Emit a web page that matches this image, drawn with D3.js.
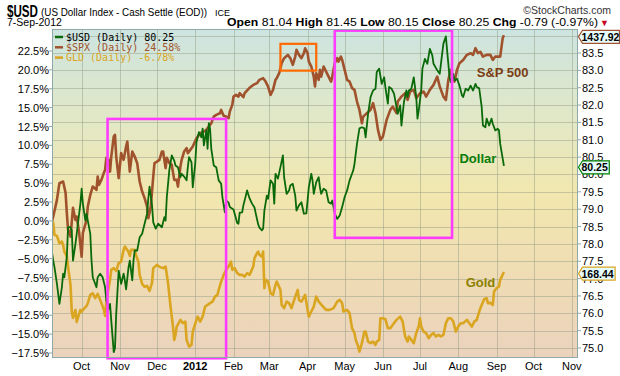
<!DOCTYPE html>
<meta charset="utf-8">
<style>
  body { margin: 0; background: #fff; }
  text { font-family: Arial, "Liberation Sans", sans-serif; }
</style>
<body>
<script src="https://cdnjs.cloudflare.com/ajax/libs/d3/7.8.5/d3.min.js"></script>
<script>
// US dollar index, daily close (right axis)
var usd = [
  ["2011-09-07",77.75],["2011-09-08",77.52],["2011-09-09",77.33],["2011-09-11",76.85],["2011-09-13",76.27],
  ["2011-09-15",76.75],["2011-09-16",77.14],["2011-09-17",77.04],["2011-09-19",77.62],["2011-09-20",78.48],
  ["2011-09-22",78.48],["2011-09-23",78.39],["2011-09-24",77.52],["2011-09-26",78.00],["2011-09-28",78.58],
  ["2011-09-30",79.16],["2011-10-01",79.59],["2011-10-02",79.16],["2011-10-04",78.67],["2011-10-05",78.87],
  ["2011-10-06",78.67],["2011-10-08",78.29],["2011-10-09",77.52],["2011-10-10",77.04],["2011-10-13",76.75],
  ["2011-10-14",77.04],["2011-10-16",77.14],["2011-10-18",77.04],["2011-10-20",76.75],["2011-10-21",76.37],
  ["2011-10-23",76.13],["2011-10-24",76.27],["2011-10-25",75.79],["2011-10-27",74.88],["2011-10-28",74.99],
  ["2011-10-29",75.99],["2011-10-31",77.23],["2011-11-01",77.04],["2011-11-02",76.85],["2011-11-04",77.14],
  ["2011-11-05",76.95],["2011-11-06",76.69],["2011-11-08",77.33],["2011-11-09",77.52],["2011-11-11",76.95],
  ["2011-11-12",77.52],["2011-11-13",77.81],["2011-11-15",77.81],["2011-11-16",78.00],["2011-11-17",78.19],
  ["2011-11-19",78.29],["2011-11-21",78.58],["2011-11-23",78.87],["2011-11-24",79.31],["2011-11-25",79.65],
  ["2011-11-27",79.11],["2011-11-28",78.62],["2011-11-30",78.44],["2011-12-02",78.58],["2011-12-05",78.48],
  ["2011-12-07",78.77],["2011-12-08",78.67],["2011-12-09",79.35],["2011-12-11",80.12],["2011-12-13",80.55],
  ["2011-12-15",80.40],["2011-12-16",80.26],["2011-12-18",80.21],["2011-12-20",79.92],["2011-12-21",80.02],
  ["2011-12-23",79.94],["2011-12-25",79.83],["2011-12-26",80.21],["2011-12-27",80.50],["2011-12-29",80.35],
  ["2011-12-30",79.63],["2012-01-01",80.31],["2012-01-02",80.93],["2012-01-04",81.22],["2012-01-06",81.07],
  ["2012-01-07",81.32],["2012-01-08",80.84],["2012-01-10",81.27],["2012-01-11",80.74],["2012-01-12",81.48],
  ["2012-01-13",81.32],["2012-01-14",80.74],["2012-01-16",80.26],["2012-01-18",80.21],["2012-01-20",79.83],
  ["2012-01-22",79.73],["2012-01-23",79.35],["2012-01-25",78.91],["2012-01-26",79.25],["2012-01-28",79.19],
  ["2012-01-29",79.06],["2012-02-01",78.99],["2012-02-04",78.60],["2012-02-05",78.58],["2012-02-06",78.90],
  ["2012-02-08",78.91],["2012-02-09",79.11],["2012-02-11",79.39],["2012-02-12",79.54],["2012-02-14",79.31],
  ["2012-02-16",79.16],["2012-02-18",79.05],["2012-02-19",78.88],["2012-02-21",78.56],["2012-02-22",78.47],
  ["2012-02-24",78.39],["2012-02-25",78.44],["2012-02-26",78.96],["2012-02-28",79.39],["2012-02-29",79.30],
  ["2012-03-02",79.83],["2012-03-04",79.73],["2012-03-05",79.16],["2012-03-06",80.02],["2012-03-08",79.88],
  ["2012-03-10",80.21],["2012-03-12",80.55],["2012-03-13",79.92],["2012-03-15",79.44],["2012-03-17",79.54],
  ["2012-03-18",79.68],["2012-03-20",79.73],["2012-03-22",79.39],["2012-03-23",78.96],["2012-03-25",79.11],
  ["2012-03-27",79.20],["2012-03-29",78.87],["2012-03-31",78.88],["2012-04-02",79.63],["2012-04-04",80.02],
  ["2012-04-05",79.83],["2012-04-06",79.44],["2012-04-08",79.78],["2012-04-10",79.92],["2012-04-11",79.63],
  ["2012-04-12",79.44],["2012-04-14",79.59],["2012-04-16",79.54],["2012-04-18",79.20],["2012-04-20",79.16],
  ["2012-04-21",79.25],["2012-04-23",78.87],["2012-04-25",78.72],["2012-04-27",78.82],["2012-04-29",79.06],
  ["2012-05-01",79.35],["2012-05-03",79.54],["2012-05-05",79.83],["2012-05-08",80.12],["2012-05-09",80.31],
  ["2012-05-11",80.88],["2012-05-13",81.33],["2012-05-15",81.36],["2012-05-17",81.33],["2012-05-18",81.07],
  ["2012-05-20",81.75],["2012-05-22",82.23],["2012-05-24",82.42],["2012-05-26",82.47],["2012-05-27",82.95],
  ["2012-05-29",83.05],["2012-05-31",82.61],["2012-06-02",82.80],["2012-06-03",82.52],["2012-06-05",82.04],
  ["2012-06-06",82.52],["2012-06-08",82.47],["2012-06-10",82.33],["2012-06-12",81.94],["2012-06-13",81.75],
  ["2012-06-15",81.99],["2012-06-16",81.41],["2012-06-18",82.08],["2012-06-20",82.42],["2012-06-21",82.23],
  ["2012-06-22",82.42],["2012-06-24",82.47],["2012-06-26",82.80],["2012-06-28",82.23],["2012-06-29",81.61],
  ["2012-06-30",81.84],["2012-07-02",82.42],["2012-07-03",83.05],["2012-07-05",83.33],["2012-07-07",83.19],
  ["2012-07-09",83.62],["2012-07-11",83.43],["2012-07-12",83.19],["2012-07-15",83.00],["2012-07-17",82.90],
  ["2012-07-19",83.48],["2012-07-20",83.77],["2012-07-22",83.98],["2012-07-23",83.57],["2012-07-25",82.80],
  ["2012-07-26",82.66],["2012-07-28",82.90],["2012-07-29",82.71],["2012-07-31",82.76],["2012-08-02",82.56],
  ["2012-08-04",82.28],["2012-08-05",82.23],["2012-08-07",82.47],["2012-08-09",82.42],["2012-08-11",82.56],
  ["2012-08-13",82.42],["2012-08-15",82.61],["2012-08-16",82.52],["2012-08-18",82.48],["2012-08-20",81.94],
  ["2012-08-21",81.41],["2012-08-23",81.36],["2012-08-24",81.61],["2012-08-26",81.41],["2012-08-28",81.61],
  ["2012-08-29",81.46],["2012-08-31",81.27],["2012-09-02",81.32],["2012-09-03",81.27],["2012-09-04",80.88],
  ["2012-09-07",80.25]
];

// S&P 500, % change since start (left axis)
var spx = [
  ["2011-09-07",0],["2011-09-08",0.57],["2011-09-11",2.78],["2011-09-13",4.99],["2011-09-16",5.21],
  ["2011-09-18",3.71],["2011-09-19",1.06],["2011-09-20",-1.19],["2011-09-22",-2.08],["2011-09-24",1.72],
  ["2011-09-26",0.13],["2011-09-27",0.57],["2011-09-29",-1.59],["2011-10-01",-4.73],["2011-10-02",-1.59],
  ["2011-10-05",0.13],["2011-10-06",1.89],["2011-10-08",3.44],["2011-10-10",4.54],["2011-10-13",4.11],
  ["2011-10-14",5.87],["2011-10-15",4.77],["2011-10-17",5.43],["2011-10-19",6.36],["2011-10-20",6.75],
  ["2011-10-21",8.34],["2011-10-23",8.08],["2011-10-24",6.53],["2011-10-25",8.52],["2011-10-27",11.17],
  ["2011-10-28",11.39],["2011-10-29",8.52],["2011-10-31",5.66],["2011-11-02",8.97],["2011-11-04",8.08],
  ["2011-11-06",9.84],["2011-11-07",10.50],["2011-11-09",6.53],["2011-11-11",9.18],["2011-11-13",8.52],
  ["2011-11-15",7.64],["2011-11-17",5.21],["2011-11-19",3.88],["2011-11-21",3.01],["2011-11-23",1.89],
  ["2011-11-24",0.36],["2011-11-26",1.89],["2011-11-28",5.87],["2011-11-29",7.64],["2011-12-01",7.85],
  ["2011-12-03",8.08],["2011-12-05",9.18],["2011-12-06",9.18],["2011-12-08",6.98],["2011-12-09",8.34],
  ["2011-12-11",7.68],["2011-12-13",7.42],["2011-12-15",5.43],["2011-12-17",5.43],["2011-12-18",4.54],
  ["2011-12-20",7.19],["2011-12-21",8.08],["2011-12-23",9.18],["2011-12-25",9.63],["2011-12-26",8.97],
  ["2011-12-28",9.40],["2011-12-30",9.84],["2012-01-02",10.95],["2012-01-04",11.39],["2012-01-05",11.62],
  ["2012-01-08",11.83],["2012-01-10",12.05],["2012-01-12",12.49],["2012-01-14",12.94],["2012-01-16",13.81],
  ["2012-01-18",14.04],["2012-01-21",14.26],["2012-01-22",14.70],["2012-01-24",13.91],["2012-01-26",13.81],
  ["2012-01-28",13.60],["2012-01-29",14.48],["2012-01-31",15.36],["2012-02-01",16.46],["2012-02-03",16.69],
  ["2012-02-05",16.46],["2012-02-06",16.91],["2012-02-09",16.38],["2012-02-10",16.91],["2012-02-14",17.62],
  ["2012-02-17",18.01],["2012-02-20",18.24],["2012-02-22",18.68],["2012-02-25",18.90],["2012-02-27",18.45],
  ["2012-02-29",17.79],["2012-03-02",16.69],["2012-03-04",17.35],["2012-03-06",18.68],["2012-03-07",18.90],
  ["2012-03-09",19.56],["2012-03-11",20.89],["2012-03-13",21.55],["2012-03-16",21.99],["2012-03-18",21.55],
  ["2012-03-20",20.66],["2012-03-22",21.76],["2012-03-23",22.65],["2012-03-25",21.99],["2012-03-27",21.55],
  ["2012-03-29",22.21],["2012-03-30",22.87],["2012-04-01",22.21],["2012-04-02",21.10],["2012-04-04",20.44],
  ["2012-04-06",19.11],["2012-04-07",17.79],["2012-04-08",19.56],["2012-04-10",18.68],["2012-04-11",20.00],
  ["2012-04-12",19.11],["2012-04-14",20.44],["2012-04-16",19.77],["2012-04-18",19.11],["2012-04-20",18.45],
  ["2012-04-21",19.11],["2012-04-23",20.89],["2012-04-25",21.55],["2012-04-26",21.10],["2012-04-28",21.76],
  ["2012-04-29",21.32],["2012-05-01",20.00],["2012-05-03",18.68],["2012-05-05",18.45],["2012-05-07",17.58],
  ["2012-05-09",17.35],["2012-05-11",15.80],["2012-05-13",14.70],["2012-05-15",12.94],["2012-05-16",13.81],
  ["2012-05-19",14.26],["2012-05-22",14.70],["2012-05-24",15.59],["2012-05-26",14.26],["2012-05-28",12.05],
  ["2012-05-30",10.73],["2012-06-01",11.17],["2012-06-04",13.38],["2012-06-07",14.70],["2012-06-09",15.14],
  ["2012-06-12",14.26],["2012-06-13",15.80],["2012-06-16",16.46],["2012-06-19",16.91],["2012-06-21",16.03],
  ["2012-06-23",17.13],["2012-06-26",17.35],["2012-06-28",16.25],["2012-07-01",16.91],["2012-07-04",17.13],
  ["2012-07-06",16.46],["2012-07-09",17.35],["2012-07-12",18.01],["2012-07-15",19.11],["2012-07-17",17.79],
  ["2012-07-20",16.46],["2012-07-22",16.03],["2012-07-24",18.68],["2012-07-26",20.00],["2012-07-28",18.90],
  ["2012-07-29",18.45],["2012-07-31",20.00],["2012-08-02",20.89],["2012-08-05",21.32],["2012-08-08",21.99],
  ["2012-08-11",22.21],["2012-08-13",21.99],["2012-08-15",22.87],["2012-08-17",22.21],["2012-08-19",22.38],
  ["2012-08-21",21.76],["2012-08-24",21.99],["2012-08-27",21.99],["2012-08-29",21.32],["2012-08-31",21.76],
  ["2012-09-04",21.76],["2012-09-06",24.20],["2012-09-07",24.58]
];

// SPDR Gold, % change since start (left axis)
var gld = [
  ["2011-09-07",0],["2011-09-08",-0.30],["2011-09-09",-1.85],["2011-09-11",-1.99],["2011-09-13",-2.95],
  ["2011-09-15",-2.74],["2011-09-16",-3.18],["2011-09-17",-4.07],["2011-09-19",-4.73],["2011-09-20",-6.05],
  ["2011-09-22",-8.48],["2011-09-23",-12.01],["2011-09-24",-12.85],["2011-09-26",-11.79],["2011-09-27",-13.38],
  ["2011-09-28",-12.85],["2011-09-30",-11.79],["2011-10-01",-12.05],["2011-10-02",-11.79],["2011-10-05",-11.26],
  ["2011-10-06",-10.90],["2011-10-08",-9.80],["2011-10-10",-9.58],["2011-10-12",-10.24],["2011-10-14",-9.67],
  ["2011-10-15",-10.07],["2011-10-17",-10.86],["2011-10-19",-11.79],["2011-10-20",-12.58],["2011-10-21",-10.73],
  ["2011-10-23",-8.70],["2011-10-24",-7.81],["2011-10-25",-6.49],["2011-10-27",-6.26],["2011-10-29",-6.62],
  ["2011-10-31",-5.60],["2011-11-02",-5.39],["2011-11-04",-3.84],["2011-11-05",-3.40],["2011-11-08",-4.11],
  ["2011-11-09",-4.64],["2011-11-10",-3.84],["2011-11-13",-3.84],["2011-11-14",-4.50],["2011-11-16",-5.43],
  ["2011-11-17",-7.15],["2011-11-19",-8.34],["2011-11-21",-8.74],["2011-11-23",-8.61],["2011-11-25",-9.27],
  ["2011-11-27",-8.21],["2011-11-28",-6.26],["2011-12-01",-5.83],["2011-12-03",-6.09],["2011-12-06",-6.26],
  ["2011-12-08",-6.05],["2011-12-10",-8.25],["2011-12-12",-11.35],["2011-12-14",-14.00],["2011-12-15",-15.76],
  ["2011-12-16",-15.10],["2011-12-17",-14.00],["2011-12-20",-13.11],["2011-12-22",-13.55],["2011-12-24",-13.34],
  ["2011-12-25",-15.76],["2011-12-27",-16.65],["2011-12-29",-16.42],["2011-12-30",-14.66],["2012-01-02",-13.11],
  ["2012-01-03",-12.68],["2012-01-05",-13.34],["2012-01-07",-12.68],["2012-01-09",-11.35],["2012-01-11",-11.13],
  ["2012-01-13",-10.90],["2012-01-15",-10.69],["2012-01-17",-10.03],["2012-01-19",-9.80],["2012-01-20",-9.14],
  ["2012-01-22",-8.04],["2012-01-24",-7.15],["2012-01-26",-6.49],["2012-01-28",-6.05],["2012-01-30",-5.39],
  ["2012-01-31",-6.49],["2012-02-02",-6.26],["2012-02-04",-6.93],["2012-02-06",-7.15],["2012-02-08",-7.15],
  ["2012-02-10",-7.38],["2012-02-12",-6.93],["2012-02-14",-7.15],["2012-02-17",-6.05],["2012-02-18",-4.94],
  ["2012-02-20",-4.28],["2012-02-21",-4.07],["2012-02-22",-4.50],["2012-02-24",-4.73],["2012-02-25",-4.07],
  ["2012-02-26",-8.91],["2012-02-27",-7.81],["2012-02-29",-8.04],["2012-03-02",-9.58],["2012-03-04",-9.80],
  ["2012-03-06",-8.48],["2012-03-07",-8.04],["2012-03-10",-9.14],["2012-03-11",-11.13],["2012-03-13",-11.56],
  ["2012-03-15",-10.69],["2012-03-17",-10.90],["2012-03-19",-11.56],["2012-03-22",-10.03],["2012-03-24",-9.14],
  ["2012-03-25",-10.46],["2012-03-27",-10.69],["2012-03-30",-9.80],["2012-04-01",-11.79],["2012-04-02",-12.68],
  ["2012-04-04",-12.01],["2012-04-06",-11.35],["2012-04-08",-10.03],["2012-04-10",-10.69],["2012-04-13",-11.26],
  ["2012-04-16",-11.79],["2012-04-19",-11.79],["2012-04-22",-11.56],["2012-04-25",-10.69],["2012-04-27",-10.46],
  ["2012-04-29",-10.90],["2012-04-30",-12.01],["2012-05-03",-11.79],["2012-05-05",-12.23],["2012-05-07",-14.21],
  ["2012-05-09",-14.87],["2012-05-10",-15.76],["2012-05-12",-16.65],["2012-05-13",-17.31],["2012-05-15",-16.20],
  ["2012-05-17",-14.66],["2012-05-18",-14.66],["2012-05-20",-15.99],["2012-05-22",-16.20],["2012-05-24",-15.99],
  ["2012-05-26",-16.42],["2012-05-27",-15.99],["2012-05-29",-15.76],["2012-05-30",-12.89],["2012-06-01",-12.89],
  ["2012-06-03",-13.02],["2012-06-05",-14.21],["2012-06-07",-14.21],["2012-06-09",-13.77],["2012-06-12",-13.11],
  ["2012-06-15",-12.68],["2012-06-17",-13.34],["2012-06-19",-15.32],["2012-06-21",-15.99],["2012-06-22",-15.32],
  ["2012-06-24",-15.76],["2012-06-26",-16.20],["2012-06-28",-14.87],["2012-06-30",-14.00],["2012-07-01",-12.89],
  ["2012-07-02",-14.00],["2012-07-04",-14.66],["2012-07-06",-14.87],["2012-07-08",-15.54],["2012-07-10",-15.10],
  ["2012-07-12",-14.87],["2012-07-14",-15.32],["2012-07-16",-15.10],["2012-07-18",-15.32],["2012-07-20",-15.10],
  ["2012-07-22",-13.55],["2012-07-24",-12.89],["2012-07-26",-12.89],["2012-07-28",-13.34],["2012-07-30",-14.66],
  ["2012-08-01",-14.00],["2012-08-03",-13.55],["2012-08-05",-13.55],["2012-08-08",-13.11],["2012-08-10",-13.55],
  ["2012-08-12",-14.00],["2012-08-14",-13.34],["2012-08-16",-13.11],["2012-08-18",-12.01],["2012-08-20",-11.13],
  ["2012-08-22",-10.37],["2012-08-24",-10.24],["2012-08-25",-10.90],["2012-08-27",-10.86],["2012-08-29",-11.13],
  ["2012-08-30",-9.36],["2012-09-01",-8.91],["2012-09-03",-8.70],["2012-09-04",-7.81],["2012-09-07",-6.78]
];

var pctTicks = [-17.5, -15, -12.5, -10, -7.5, -5, -2.5, 0, 2.5, 5, 7.5, 10, 12.5, 15, 17.5, 20, 22.5];
var usdTicks = [75, 75.5, 76, 76.5, 77, 77.5, 78, 78.5, 79, 79.5, 80, 80.5, 81, 81.5, 82, 82.5, 83, 83.5, 84];
var monthLabels = ["Oct", "Nov", "Dec", "2012", "Feb", "Mar", "Apr", "May", "Jun", "Jul", "Aug", "Sep", "Oct", "Nov"];

// highlighted periods: [from, to, top %, bottom %]
var pinkBoxes = [["2011-10-22", "2012-01-26", 13.5, -18.2], ["2012-04-23", "2012-07-27", 25.2, -2.25]];
var orangeBoxes = [["2012-03-10", "2012-04-08", 23.45, 19.9]];

// last close of each series: [label on tag, value, axis]
var lastTags = [["1437.92", 24.58, "pct"], ["80.25", 80.25, "usd"], ["168.44", -6.78, "pct"]];

var parse = d3.timeParse("%Y-%m-%d");
var pL = 52, pR = 578, pT = 29, pB = 358;

var x = d3.scaleTime()
  .domain([new Date(2011, 8, 7), new Date(2012, 10, 6)])
  .range([pL, pR]);
var yPct = d3.scaleLinear().domain([-17.5, 22.5]).range([353, 51]);
var yUsd = d3.scaleLinear().domain([75, 83.5]).range([348, 53]);

var svg = d3.select("body").append("svg")
  .attr("width", 620)
  .attr("height", 376);

var defs = svg.append("defs");
var grad = defs.append("linearGradient")
  .attr("id", "bg")
  .attr("x1", 0).attr("y1", 0).attr("x2", 0).attr("y2", 1);
[["0%", "#cde4e0"], ["28%", "#e2e8c6"], ["50%", "#f2e7ae"], ["75%", "#efdcb4"], ["100%", "#ebd2bd"]]
  .forEach(function (s) {
    grad.append("stop").attr("offset", s[0]).attr("stop-color", s[1]);
  });
defs.append("clipPath").attr("id", "clip")
  .append("rect")
  .attr("x", pL).attr("y", pT)
  .attr("width", pR - pL).attr("height", pB - pT);

svg.append("rect")
  .attr("x", pL).attr("y", pT)
  .attr("width", pR - pL).attr("height", pB - pT)
  .attr("fill", "url(#bg)");

// grid
var months = d3.timeMonth.range(new Date(2011, 9, 1), new Date(2012, 11, 1));
var grid = svg.append("g").attr("clip-path", "url(#clip)")
  .attr("stroke", "#95a088").attr("stroke-opacity", 0.5);
grid.selectAll(".v").data(months).enter().append("line")
  .attr("x1", function (d) { return Math.round(x(d)) + 0.5; })
  .attr("x2", function (d) { return Math.round(x(d)) + 0.5; })
  .attr("y1", pT).attr("y2", pB);
grid.selectAll(".h").data(usdTicks).enter().append("line")
  .attr("x1", pL).attr("x2", pR)
  .attr("y1", function (d) { return Math.round(yUsd(d)) + 0.5; })
  .attr("y2", function (d) { return Math.round(yUsd(d)) + 0.5; });

// series
function lineFor(scale) {
  return d3.line()
    .x(function (d) { return x(parse(d[0])); })
    .y(function (d) { return scale(d[1]); });
}
var lines = svg.append("g").attr("clip-path", "url(#clip)").attr("fill", "none")
  .attr("stroke-linejoin", "round");
lines.append("path").datum(gld)
  .attr("d", lineFor(yPct))
  .attr("stroke", "#daa520").attr("stroke-width", 2.6);
lines.append("path").datum(spx)
  .attr("d", lineFor(yPct))
  .attr("stroke", "#a0522d").attr("stroke-width", 2.6);
lines.append("path").datum(usd)
  .attr("d", lineFor(yUsd))
  .attr("stroke", "#0a6a0a").attr("stroke-width", 1.8);

// annotation boxes
function box(sel, color, width) {
  sel.enter().append("rect")
    .attr("x", function (d) { return x(parse(d[0])); })
    .attr("y", function (d) { return yPct(d[2]); })
    .attr("width", function (d) { return x(parse(d[1])) - x(parse(d[0])); })
    .attr("height", function (d) { return yPct(d[3]) - yPct(d[2]); })
    .attr("fill", "none").attr("stroke", color).attr("stroke-width", width);
}
box(svg.append("g").selectAll("rect").data(pinkBoxes), "#ff3cff", 2.6);
box(svg.append("g").selectAll("rect").data(orangeBoxes), "#ff6a00", 2.2);

// frame
svg.append("rect")
  .attr("x", pL + 0.5).attr("y", pT + 0.5)
  .attr("width", pR - pL - 1).attr("height", pB - pT - 1)
  .attr("fill", "none").attr("stroke", "#8fa9a9");

// left axis
var yAxisL = svg.append("g").style("font-size", "11px");
yAxisL.selectAll("text").data(pctTicks).enter().append("text")
  .attr("x", 49).attr("y", function (d) { return yPct(d) + 4; })
  .attr("text-anchor", "end")
  .text(function (d) { return d3.format(".1f")(d) + "%"; });
yAxisL.selectAll("line").data(pctTicks).enter().append("line")
  .attr("x1", 49).attr("x2", pL)
  .attr("y1", function (d) { return yPct(d); })
  .attr("y2", function (d) { return yPct(d); })
  .attr("stroke", "#8fa9a9");

// right axis
var yAxisR = svg.append("g").style("font-size", "11px");
yAxisR.selectAll("text").data(usdTicks.filter(function (d) { return d < 84; })).enter().append("text")
  .attr("x", 582).attr("y", function (d) { return yUsd(d) + 4; })
  .text(function (d) { return d3.format(".1f")(d); });
yAxisR.selectAll("line").data(usdTicks).enter().append("line")
  .attr("x1", pR).attr("x2", pR + 3)
  .attr("y1", function (d) { return yUsd(d); })
  .attr("y2", function (d) { return yUsd(d); })
  .attr("stroke", "#8fa9a9");

// x axis
svg.append("g").selectAll("text").data(months).enter().append("text")
  .attr("x", function (d) { return x(d); })
  .attr("y", 370)
  .attr("text-anchor", "middle")
  .style("font-size", "11px")
  .style("font-weight", function (d, i) { return monthLabels[i] === "2012" ? "bold" : "normal"; })
  .text(function (d, i) { return monthLabels[i]; });

// price tags on the right edge
var tagColors = ["#a0522d", "#008000", "#daa520"];
var tagG = svg.append("g").selectAll("g").data(lastTags).enter().append("g")
  .attr("transform", function (d) {
    var yy = d[2] === "usd" ? yUsd(d[1]) : yPct(d[1]);
    return "translate(" + pR + "," + (yy + 1.5) + ")";
  });
tagG.append("path")
  .attr("fill", "#e6fbfb")
  .attr("stroke", function (d, i) { return tagColors[i]; })
  .attr("stroke-width", 1.2);
tagG.append("text")
  .attr("x", 3.5).attr("y", 4)
  .style("font-size", "10.5px").style("font-weight", "bold")
  .text(function (d) { return d[0]; })
  .each(function () {
    var w = Math.min(this.getComputedTextLength() + 5, 41.5);
    d3.select(this.parentNode).select("path")
      .attr("d", "M0.5,0L4.5,-6.5L" + w + ",-6.5L" + w + ",6.5L4.5,6.5Z");
  });

// legend
var legend = [
  ["$USD (Daily) 80.25", "#0a6a0a", "#000"],
  ["$SPX (Daily) 24.58%", "#a0522d", "#a0522d"],
  ["GLD (Daily) -6.78%", "#daa520", "#daa520"]
];
var lg = svg.append("g").selectAll("g").data(legend).enter().append("g")
  .attr("transform", function (d, i) { return "translate(55," + (37 + i * 10.3) + ")"; });
lg.append("line").attr("x1", 0).attr("x2", 8)
  .attr("stroke", function (d) { return d[1]; }).attr("stroke-width", 2.5);
lg.append("text").attr("x", 11).attr("y", 3.5)
  .style("font-family", "'DejaVu Sans Mono', monospace").style("font-size", "10px")
  .attr("fill", function (d) { return d[2]; })
  .text(function (d) { return d[0]; });

// series labels
var labels = [
  ["S&P 500", "2012-08-16", yPct(19.0), "#7b3d14"],
  ["Dollar", "2012-08-02", yUsd(80.32), "#0a7d0a"],
  ["Gold", "2012-08-07", yPct(-8.8), "#8c8000"]
];
svg.append("g").selectAll("text").data(labels).enter().append("text")
  .attr("x", function (d) { return x(parse(d[1])); })
  .attr("y", function (d) { return d[2]; })
  .attr("fill", function (d) { return d[3]; })
  .style("font-size", "13px").style("font-weight", "bold")
  .text(function (d) { return d[0]; });

// header
svg.append("text").attr("x", 7).attr("y", 17)
  .attr("textLength", 31).attr("lengthAdjust", "spacingAndGlyphs")
  .style("font-size", "16px").style("font-weight", "bold").text("$USD");
svg.append("text").attr("x", 41).attr("y", 16)
  .attr("textLength", 166).attr("lengthAdjust", "spacingAndGlyphs")
  .style("font-size", "11px").text("(US Dollar Index - Cash Settle (EOD))");
svg.append("text").attr("x", 215).attr("y", 16)
  .style("font-size", "9px").text("ICE");
svg.append("text").attr("x", 611).attr("y", 14).attr("text-anchor", "end")
  .attr("fill", "#333").style("font-size", "10.5px").text("\u00a9StockCharts.com");
svg.append("text").attr("x", 7).attr("y", 26)
  .style("font-size", "10.5px").text("7-Sep-2012");

var quote = [["Open", " 81.04 "], ["High", " 81.45 "], ["Low", " 80.15 "], ["Close", " 80.25 "], ["Chg", " -0.79 (-0.97%)"]];
var qt = svg.append("text").attr("x", 598).attr("y", 26).attr("text-anchor", "end")
  .attr("textLength", 371).attr("lengthAdjust", "spacingAndGlyphs")
  .style("font-size", "11.5px");
quote.forEach(function (q) {
  qt.append("tspan").style("font-weight", "bold").text(q[0]);
  qt.append("tspan").text(q[1]);
});
svg.append("text").attr("x", 600).attr("y", 26)
  .attr("fill", "#c8001e").style("font-size", "9px").text("\u25bc");
</script>
